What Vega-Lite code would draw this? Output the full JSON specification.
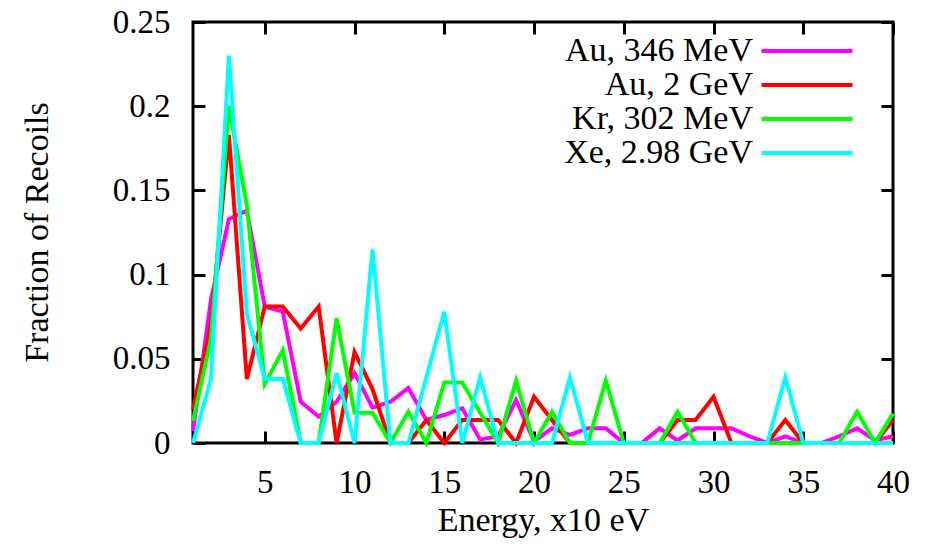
{
  "$schema": "https://vega.github.io/schema/vega-lite/v6.json",
  "width": 700,
  "height": 421,
  "autosize": {"type": "none"},
  "padding": {"left": 193, "top": 22, "right": 44, "bottom": 104},
  "background": "white",
  "config": {
    "view": {"stroke": "black", "strokeWidth": 3},
    "font": "Liberation Serif",
    "axis": {"domain": false, "grid": false, "tickColor": "black", "tickWidth": 3, "tickSize": -12, "labelColor": "black", "titleColor": "black", "labelFontSize": 33, "titleFontSize": 34, "labelFont": "Liberation Serif", "titleFont": "Liberation Serif", "titleFontWeight": "normal", "labelFlush": false, "labelOverlap": false}
  },
  "data": {
    "values": [
      {"e":1,"f":0.007,"s":"Au, 346 MeV"},{"e":2,"f":0.085,"s":"Au, 346 MeV"},{"e":3,"f":0.133,"s":"Au, 346 MeV"},{"e":4,"f":0.138,"s":"Au, 346 MeV"},{"e":5,"f":0.081,"s":"Au, 346 MeV"},{"e":6,"f":0.078,"s":"Au, 346 MeV"},{"e":7,"f":0.0245,"s":"Au, 346 MeV"},{"e":8,"f":0.0156,"s":"Au, 346 MeV"},{"e":9,"f":0.0245,"s":"Au, 346 MeV"},{"e":10,"f":0.0415,"s":"Au, 346 MeV"},
      {"e":11,"f":0.021,"s":"Au, 346 MeV"},{"e":12,"f":0.0245,"s":"Au, 346 MeV"},{"e":13,"f":0.0326,"s":"Au, 346 MeV"},{"e":14,"f":0.0137,"s":"Au, 346 MeV"},{"e":15,"f":0.0166,"s":"Au, 346 MeV"},{"e":16,"f":0.0207,"s":"Au, 346 MeV"},{"e":17,"f":0.002,"s":"Au, 346 MeV"},{"e":18,"f":0.004,"s":"Au, 346 MeV"},{"e":19,"f":0.0255,"s":"Au, 346 MeV"},{"e":20,"f":0.001,"s":"Au, 346 MeV"},
      {"e":21,"f":0.0087,"s":"Au, 346 MeV"},{"e":22,"f":0.0048,"s":"Au, 346 MeV"},{"e":23,"f":0.0087,"s":"Au, 346 MeV"},{"e":24,"f":0.0087,"s":"Au, 346 MeV"},{"e":25,"f":0,"s":"Au, 346 MeV"},{"e":26,"f":0,"s":"Au, 346 MeV"},{"e":27,"f":0.0087,"s":"Au, 346 MeV"},{"e":28,"f":0.0015,"s":"Au, 346 MeV"},{"e":29,"f":0.0087,"s":"Au, 346 MeV"},{"e":30,"f":0.0087,"s":"Au, 346 MeV"},
      {"e":31,"f":0.0087,"s":"Au, 346 MeV"},{"e":32,"f":0.004,"s":"Au, 346 MeV"},{"e":33,"f":0,"s":"Au, 346 MeV"},{"e":34,"f":0.004,"s":"Au, 346 MeV"},{"e":35,"f":0,"s":"Au, 346 MeV"},{"e":36,"f":0,"s":"Au, 346 MeV"},{"e":37,"f":0.004,"s":"Au, 346 MeV"},{"e":38,"f":0.0087,"s":"Au, 346 MeV"},{"e":39,"f":0.0015,"s":"Au, 346 MeV"},{"e":40,"f":0.004,"s":"Au, 346 MeV"},

      {"e":1,"f":0.02,"s":"Au, 2 GeV"},{"e":2,"f":0.07,"s":"Au, 2 GeV"},{"e":3,"f":0.183,"s":"Au, 2 GeV"},{"e":4,"f":0.038,"s":"Au, 2 GeV"},{"e":5,"f":0.081,"s":"Au, 2 GeV"},{"e":6,"f":0.081,"s":"Au, 2 GeV"},{"e":7,"f":0.068,"s":"Au, 2 GeV"},{"e":8,"f":0.081,"s":"Au, 2 GeV"},{"e":9,"f":0,"s":"Au, 2 GeV"},{"e":10,"f":0.054,"s":"Au, 2 GeV"},
      {"e":11,"f":0.032,"s":"Au, 2 GeV"},{"e":12,"f":0,"s":"Au, 2 GeV"},{"e":13,"f":0,"s":"Au, 2 GeV"},{"e":14,"f":0.0137,"s":"Au, 2 GeV"},{"e":15,"f":0,"s":"Au, 2 GeV"},{"e":16,"f":0.0137,"s":"Au, 2 GeV"},{"e":17,"f":0.0137,"s":"Au, 2 GeV"},{"e":18,"f":0.0137,"s":"Au, 2 GeV"},{"e":19,"f":0,"s":"Au, 2 GeV"},{"e":20,"f":0.0275,"s":"Au, 2 GeV"},
      {"e":21,"f":0.0137,"s":"Au, 2 GeV"},{"e":22,"f":0,"s":"Au, 2 GeV"},{"e":23,"f":0,"s":"Au, 2 GeV"},{"e":24,"f":0,"s":"Au, 2 GeV"},{"e":25,"f":0,"s":"Au, 2 GeV"},{"e":26,"f":0,"s":"Au, 2 GeV"},{"e":27,"f":0,"s":"Au, 2 GeV"},{"e":28,"f":0.0137,"s":"Au, 2 GeV"},{"e":29,"f":0.0137,"s":"Au, 2 GeV"},{"e":30,"f":0.0275,"s":"Au, 2 GeV"},
      {"e":31,"f":0,"s":"Au, 2 GeV"},{"e":32,"f":0,"s":"Au, 2 GeV"},{"e":33,"f":0,"s":"Au, 2 GeV"},{"e":34,"f":0.0137,"s":"Au, 2 GeV"},{"e":35,"f":0,"s":"Au, 2 GeV"},{"e":36,"f":0,"s":"Au, 2 GeV"},{"e":37,"f":0,"s":"Au, 2 GeV"},{"e":38,"f":0,"s":"Au, 2 GeV"},{"e":39,"f":0,"s":"Au, 2 GeV"},{"e":40,"f":0.0137,"s":"Au, 2 GeV"},

      {"e":1,"f":0.013,"s":"Kr, 302 MeV"},{"e":2,"f":0.062,"s":"Kr, 302 MeV"},{"e":3,"f":0.2,"s":"Kr, 302 MeV"},{"e":4,"f":0.141,"s":"Kr, 302 MeV"},{"e":5,"f":0.035,"s":"Kr, 302 MeV"},{"e":6,"f":0.055,"s":"Kr, 302 MeV"},{"e":7,"f":0,"s":"Kr, 302 MeV"},{"e":8,"f":0,"s":"Kr, 302 MeV"},{"e":9,"f":0.074,"s":"Kr, 302 MeV"},{"e":10,"f":0.018,"s":"Kr, 302 MeV"},
      {"e":11,"f":0.018,"s":"Kr, 302 MeV"},{"e":12,"f":0,"s":"Kr, 302 MeV"},{"e":13,"f":0.0186,"s":"Kr, 302 MeV"},{"e":14,"f":0,"s":"Kr, 302 MeV"},{"e":15,"f":0.036,"s":"Kr, 302 MeV"},{"e":16,"f":0.036,"s":"Kr, 302 MeV"},{"e":17,"f":0.018,"s":"Kr, 302 MeV"},{"e":18,"f":0,"s":"Kr, 302 MeV"},{"e":19,"f":0.037,"s":"Kr, 302 MeV"},{"e":20,"f":0,"s":"Kr, 302 MeV"},
      {"e":21,"f":0.0186,"s":"Kr, 302 MeV"},{"e":22,"f":0,"s":"Kr, 302 MeV"},{"e":23,"f":0,"s":"Kr, 302 MeV"},{"e":24,"f":0.037,"s":"Kr, 302 MeV"},{"e":25,"f":0,"s":"Kr, 302 MeV"},{"e":26,"f":0,"s":"Kr, 302 MeV"},{"e":27,"f":0,"s":"Kr, 302 MeV"},{"e":28,"f":0.0186,"s":"Kr, 302 MeV"},{"e":29,"f":0,"s":"Kr, 302 MeV"},{"e":30,"f":0,"s":"Kr, 302 MeV"},
      {"e":31,"f":0,"s":"Kr, 302 MeV"},{"e":32,"f":0,"s":"Kr, 302 MeV"},{"e":33,"f":0,"s":"Kr, 302 MeV"},{"e":34,"f":0,"s":"Kr, 302 MeV"},{"e":35,"f":0,"s":"Kr, 302 MeV"},{"e":36,"f":0,"s":"Kr, 302 MeV"},{"e":37,"f":0,"s":"Kr, 302 MeV"},{"e":38,"f":0.0186,"s":"Kr, 302 MeV"},{"e":39,"f":0,"s":"Kr, 302 MeV"},{"e":40,"f":0.0176,"s":"Kr, 302 MeV"},

      {"e":1,"f":0,"s":"Xe, 2.98 GeV"},{"e":2,"f":0.038,"s":"Xe, 2.98 GeV"},{"e":3,"f":0.23,"s":"Xe, 2.98 GeV"},{"e":4,"f":0.077,"s":"Xe, 2.98 GeV"},{"e":5,"f":0.038,"s":"Xe, 2.98 GeV"},{"e":6,"f":0.038,"s":"Xe, 2.98 GeV"},{"e":7,"f":0,"s":"Xe, 2.98 GeV"},{"e":8,"f":0,"s":"Xe, 2.98 GeV"},{"e":9,"f":0.0415,"s":"Xe, 2.98 GeV"},{"e":10,"f":0,"s":"Xe, 2.98 GeV"},
      {"e":11,"f":0.115,"s":"Xe, 2.98 GeV"},{"e":12,"f":0,"s":"Xe, 2.98 GeV"},{"e":13,"f":0,"s":"Xe, 2.98 GeV"},{"e":14,"f":0.039,"s":"Xe, 2.98 GeV"},{"e":15,"f":0.078,"s":"Xe, 2.98 GeV"},{"e":16,"f":0,"s":"Xe, 2.98 GeV"},{"e":17,"f":0.039,"s":"Xe, 2.98 GeV"},{"e":18,"f":0,"s":"Xe, 2.98 GeV"},{"e":19,"f":0,"s":"Xe, 2.98 GeV"},{"e":20,"f":0,"s":"Xe, 2.98 GeV"},
      {"e":21,"f":0,"s":"Xe, 2.98 GeV"},{"e":22,"f":0.039,"s":"Xe, 2.98 GeV"},{"e":23,"f":0,"s":"Xe, 2.98 GeV"},{"e":24,"f":0,"s":"Xe, 2.98 GeV"},{"e":25,"f":0,"s":"Xe, 2.98 GeV"},{"e":26,"f":0,"s":"Xe, 2.98 GeV"},{"e":27,"f":0,"s":"Xe, 2.98 GeV"},{"e":28,"f":0,"s":"Xe, 2.98 GeV"},{"e":29,"f":0,"s":"Xe, 2.98 GeV"},{"e":30,"f":0,"s":"Xe, 2.98 GeV"},
      {"e":31,"f":0,"s":"Xe, 2.98 GeV"},{"e":32,"f":0,"s":"Xe, 2.98 GeV"},{"e":33,"f":0,"s":"Xe, 2.98 GeV"},{"e":34,"f":0.039,"s":"Xe, 2.98 GeV"},{"e":35,"f":0,"s":"Xe, 2.98 GeV"},{"e":36,"f":0,"s":"Xe, 2.98 GeV"},{"e":37,"f":0,"s":"Xe, 2.98 GeV"},{"e":38,"f":0,"s":"Xe, 2.98 GeV"},{"e":39,"f":0,"s":"Xe, 2.98 GeV"},{"e":40,"f":0,"s":"Xe, 2.98 GeV"}
    ]
  },
  "layer": [
    {
      "mark": {"type": "line", "strokeWidth": 4, "clip": false},
      "encoding": {
        "x": {"field": "e", "type": "quantitative", "scale": {"domain": [1, 40], "nice": false, "zero": false},
              "axis": {"orient": "bottom", "values": [5,10,15,20,25,30,35,40], "labelPadding": 35, "labelBaseline": "top", "title": "Energy, x10 eV", "titleX": 350, "titleY": 77, "titleBaseline": "middle", "titleAlign": "center"}},
        "y": {"field": "f", "type": "quantitative", "scale": {"domain": [0, 0.25], "nice": false},
              "axis": {"orient": "left", "values": [0,0.05,0.1,0.15,0.2,0.25], "format": "~g", "labelPadding": 35, "title": "Fraction of Recoils", "titleX": -156, "titleY": 210, "titleAngle": -90, "titleBaseline": "middle", "titleAlign": "center"}},
        "color": {"field": "s", "type": "nominal",
                  "scale": {"domain": ["Au, 346 MeV", "Au, 2 GeV", "Kr, 302 MeV", "Xe, 2.98 GeV"], "range": ["#ff00ff", "#ff0000", "#00ff00", "#00ffff"]},
                  "legend": {"orient": "none", "legendX": 597, "legendY": 12, "title": null, "symbolType": "M-3.033,0H3.033", "symbolSize": 900, "symbolStrokeWidth": 4, "labelFontSize": 34, "labelFont": "Liberation Serif", "labelColor": "black", "labelAlign": "right", "labelOffset": -71, "labelLimit": 0, "rowPadding": 0, "padding": 0}}
      }
    },
    {
      "mark": {"type": "line", "opacity": 0, "clip": false},
      "encoding": {
        "x": {"field": "e", "type": "quantitative", "axis": {"orient": "top", "values": [5,10,15,20,25,30,35,40], "labels": false, "title": null}},
        "y": {"field": "f", "type": "quantitative", "axis": {"orient": "right", "values": [0,0.05,0.1,0.15,0.2,0.25], "labels": false, "title": null}}
      }
    }
  ],
  "resolve": {"axis": {"x": "independent", "y": "independent"}}
}
